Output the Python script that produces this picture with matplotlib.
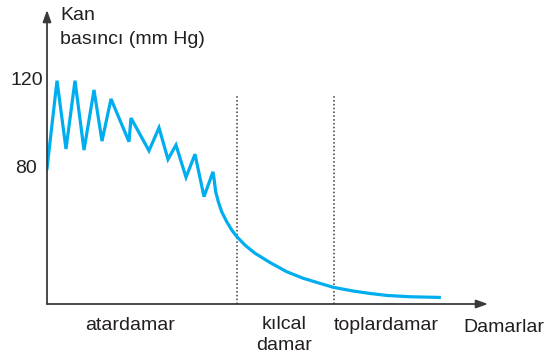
import matplotlib
matplotlib.use("Agg")
import matplotlib.pyplot as plt

plt.rcParams['font.family'] = ['Liberation Sans', 'DejaVu Sans']

# position along the vessels (arbitrary units) and blood pressure (mm Hg)
pos = [0, 10, 19, 28, 37, 47, 55, 64, 82, 84, 102, 112, 121, 129, 139, 148, 157, 166,
       167, 168.7, 171.3, 174.7, 179.7, 184.7, 190, 198, 208, 223, 239.7, 256.3, 273,
       286.3, 306.3, 323, 339.7, 363, 392.3]
pressure = [80, 120, 88.9, 120, 88.4, 115.8, 92.5, 111.7, 92.2, 103, 88.1, 98.6, 84.2,
            90.7, 76, 86.5, 67.2, 78.5,
            75.5, 69.4, 64.9, 60.3, 55.8, 52.0, 48.9, 45.1, 41.4, 37.2, 33.0, 30.0, 27.7,
            25.9, 24.2, 23.1, 22.2, 21.6, 21.3]

boundaries = [190, 287]          # kılcal damar start, toplardamar start
boundary_top = 113
yticks = [120, 80]

W, H = 556, 359
fig = plt.figure(figsize=(W / 100, H / 100), dpi=100)
ax = fig.add_axes([47 / W, (H - 304) / H, (488 - 47) / W, (304 - 10) / H])
ax.set_xlim(0, 441)
ax.set_ylim(18.3, 152.2)
ax.axis('off')

axis_col = '#3a3a3a'
txt_col = '#231f20'

ax.plot(pos, pressure, color='#00aeef', lw=2.3, solid_joinstyle='miter', zorder=3)

for b in boundaries:
    ax.plot([b, b], [18.3, boundary_top], color=axis_col, lw=1.1, ls=(0, (1, 1.5)))

# axis arrows
arrow = dict(arrowstyle='-|>,head_length=0.7,head_width=0.25', color=axis_col, lw=1.3,
             shrinkA=0, shrinkB=0)
ax.annotate('', xy=(0, 1), xytext=(0, 0), xycoords='axes fraction', arrowprops=arrow)
ax.annotate('', xy=(1, 0), xytext=(0, 0), xycoords='axes fraction', arrowprops=arrow)

fs = 14
ylab_trans = matplotlib.transforms.blended_transform_factory(fig.transFigure, ax.transData)
for v, xr in zip(yticks, [43, 37]):
    ax.text(xr / W, v, str(v), transform=ylab_trans,
            ha='right', va='center', fontsize=fs, color=txt_col)

fig.text(60 / W, 1 - 16 / H, 'Kan', ha='left', va='center', fontsize=fs, color=txt_col)
fig.text(60 / W, 1 - 40 / H, 'basıncı (mm Hg)', ha='left', va='center', fontsize=fs, color=txt_col)
fig.text(130 / W, 1 - 325 / H, 'atardamar', ha='center', va='center', fontsize=fs, color=txt_col)
fig.text(284 / W, 1 - 335 / H, 'kılcal\ndamar', ha='center', va='center', fontsize=fs,
         color=txt_col, linespacing=1.25)
fig.text(386 / W, 1 - 325 / H, 'toplardamar', ha='center', va='center', fontsize=fs, color=txt_col)
fig.text(504 / W, 1 - 328 / H, 'Damarlar', ha='center', va='center', fontsize=fs, color=txt_col)

fig.savefig('out.png', dpi=100)
